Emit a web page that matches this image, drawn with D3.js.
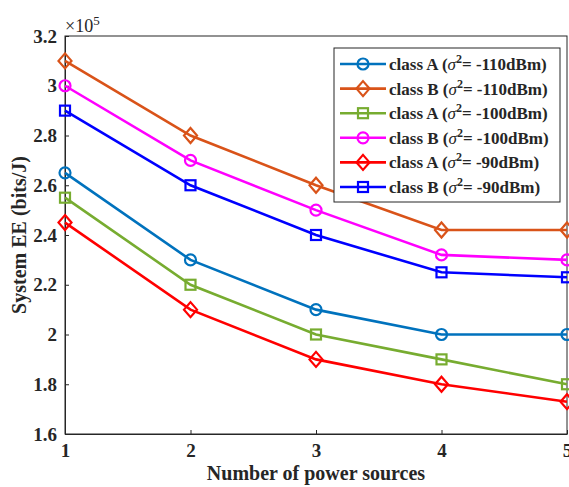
<!DOCTYPE html>
<html>
<head>
<meta charset="utf-8">
<script src="https://cdn.jsdelivr.net/npm/d3@7"></script>
<style>
  html, body { margin: 0; padding: 0; background: #fff; }
  svg { display: block; }
  text { font-family: "Liberation Serif", "Times New Roman", serif; font-weight: bold; }
</style>
</head>
<body>
<svg id="chart" width="569" height="487"></svg>
<script>
// Number of power sources
const sources = [1, 2, 3, 4, 5];
// System EE values in units of 1e5 bits/J
const classA110 = [2.65, 2.30, 2.10, 2.00, 2.00];
const classB110 = [3.10, 2.80, 2.60, 2.42, 2.42];
const classA100 = [2.55, 2.20, 2.00, 1.90, 1.80];
const classB100 = [3.00, 2.70, 2.50, 2.32, 2.30];
const classA90  = [2.45, 2.10, 1.90, 1.80, 1.73];
const classB90  = [2.90, 2.60, 2.40, 2.25, 2.23];
const yTicks = [1.6, 1.8, 2, 2.2, 2.4, 2.6, 2.8, 3, 3.2];
const seriesNames = [
  ["class A (", "-110dBm)"],
  ["class B (", "-110dBm)"],
  ["class A (", "-100dBm)"],
  ["class B (", "-100dBm)"],
  ["class A (", "-90dBm)"],
  ["class B (", "-90dBm)"]
];

const series = [
  { values: classA110, color: "#0072BD", marker: "circle" },
  { values: classB110, color: "#D95319", marker: "diamond" },
  { values: classA100, color: "#77AC30", marker: "square" },
  { values: classB100, color: "#FF00FF", marker: "circle" },
  { values: classA90,  color: "#FF0000", marker: "diamond" },
  { values: classB90,  color: "#0000FF", marker: "square" }
].map((s, i) => ({ ...s, name: seriesNames[i] }));

const svg = d3.select("#chart");
const margin = { left: 65, right: 2, top: 36, bottom: 53 };
const W = 569, H = 487;
const x = d3.scaleLinear().domain([1, 5]).range([margin.left, W - margin.right]);
const y = d3.scaleLinear().domain([1.6, 3.2]).range([H - margin.bottom, margin.top]);

const axisColor = "#262626";

// Plot box
svg.append("rect")
  .attr("x", x(1)).attr("y", y(3.2))
  .attr("width", x(5) - x(1)).attr("height", y(1.6) - y(3.2))
  .attr("fill", "none").attr("stroke", axisColor).attr("stroke-width", 1);

// Axes with inward ticks
const xAxis = svg.append("g")
  .attr("transform", `translate(0,${y(1.6)})`)
  .call(d3.axisBottom(x).tickValues(sources).tickFormat(d3.format("d")).tickSizeInner(-4).tickSizeOuter(0).tickPadding(8));
const yAxis = svg.append("g")
  .attr("transform", `translate(${x(1)},0)`)
  .call(d3.axisLeft(y).tickValues(yTicks).tickFormat(d => d3.format("")(d)).tickSizeInner(-4).tickSizeOuter(0).tickPadding(8));
[xAxis, yAxis].forEach(g => {
  g.attr("font-family", "Liberation Serif, serif").attr("font-size", 19).attr("font-weight", "bold");
  g.select(".domain").attr("stroke", axisColor);
  g.selectAll(".tick line").attr("stroke", axisColor);
  g.selectAll(".tick text").attr("fill", axisColor)
    .attr("font-size", 19).attr("font-weight", "bold").style("font-size", "19px");
});
xAxis.selectAll(".tick text").attr("dy", "0.8em");

// Exponent label
const expo = svg.append("text").attr("x", x(1)).attr("y", 32).attr("fill", axisColor).style("font-size", "18px").style("font-weight", "normal");
expo.append("tspan").text("\u00d710");
expo.append("tspan").attr("dy", -7).style("font-size", "13px").text("5");

// Axis titles
svg.append("text")
  .attr("x", (x(1) + x(5)) / 2).attr("y", 480)
  .attr("text-anchor", "middle").attr("fill", axisColor).style("font-size", "20px")
  .text("Number of power sources");
svg.append("text")
  .attr("transform", `translate(26,${(y(1.6) + y(3.2)) / 2}) rotate(-90)`)
  .attr("text-anchor", "middle").attr("fill", axisColor).style("font-size", "20px")
  .text("System EE (bits/J)");

// Marker drawing
function drawMarker(g, type, cx, cy, color) {
  if (type === "circle") {
    g.append("circle").attr("cx", cx).attr("cy", cy).attr("r", 5.5)
      .attr("fill", "none").attr("stroke", color).attr("stroke-width", 2.2);
  } else if (type === "square") {
    g.append("rect").attr("x", cx - 5).attr("y", cy - 5).attr("width", 10).attr("height", 10)
      .attr("fill", "none").attr("stroke", color).attr("stroke-width", 2.2);
  } else {
    g.append("path").attr("d", `M${cx},${cy - 7.5}L${cx + 6.5},${cy}L${cx},${cy + 7.5}L${cx - 6.5},${cy}Z`)
      .attr("fill", "none").attr("stroke", color).attr("stroke-width", 2.2);
  }
}

svg.append("clipPath").attr("id", "plotclip").append("rect")
  .attr("x", 0).attr("y", 0).attr("width", W).attr("height", H);

const line = d3.line().x((d, i) => x(sources[i])).y(d => y(d));
const plot = svg.append("g").attr("clip-path", "url(#plotclip)");
series.forEach(s => {
  plot.append("path").datum(s.values).attr("d", line)
    .attr("fill", "none").attr("stroke", s.color).attr("stroke-width", 2.6);
  s.values.forEach((v, i) => drawMarker(plot, s.marker, x(sources[i]), y(v), s.color));
});

// Legend
const lg = svg.append("g");
const lx = 334, ly = 48, lw = 226, lh = 154, rowH = 24.6, row0 = 64;
lg.append("rect").attr("x", lx).attr("y", ly).attr("width", lw).attr("height", lh)
  .attr("fill", "#fff").attr("stroke", axisColor).attr("stroke-width", 1);
series.forEach((s, i) => {
  const yy = row0 + i * rowH;
  lg.append("line").attr("x1", 340).attr("x2", 386).attr("y1", yy).attr("y2", yy)
    .attr("stroke", s.color).attr("stroke-width", 2.6);
  drawMarker(lg, s.marker, 363, yy, s.color);
  const t = lg.append("text").attr("x", 389).attr("y", yy + 6).attr("fill", axisColor).style("font-size", "17px");
  t.append("tspan").text(s.name[0]);
  t.append("tspan").style("font-style", "italic").style("font-weight", "normal").text("\u03c3");
  t.append("tspan").attr("dy", -7).style("font-size", "12px").text("2");
  t.append("tspan").attr("dy", 7).text("= " + s.name[1]);
});
</script>
</body>
</html>
